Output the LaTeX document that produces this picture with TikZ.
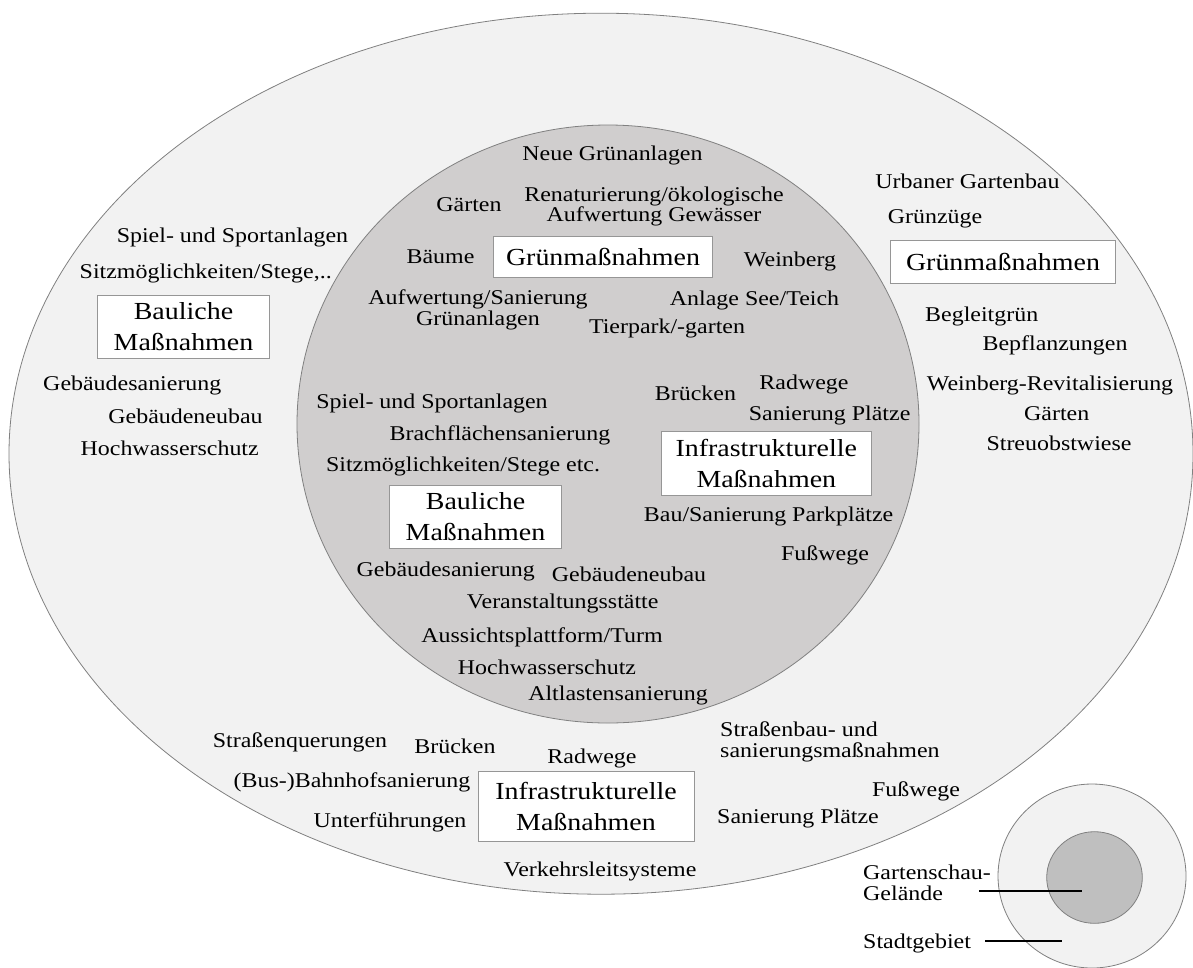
\documentclass[tikz,border=0pt]{standalone}
\usepackage{fontspec}
\setmainfont{Liberation Serif}[FakeStretch=1.14]
\usetikzlibrary{shapes.geometric}
\definecolor{cityfill}{RGB}{242,242,242}
\definecolor{sitefill}{RGB}{208,206,206}
\definecolor{keyfill}{RGB}{191,191,191}
\definecolor{ringline}{RGB}{128,128,128}
\definecolor{boxline}{RGB}{150,150,150}
\begin{document}
\begin{tikzpicture}[x=1pt,y=-1pt,
  ring/.style={ellipse,draw=ringline,line width=0.8pt,inner sep=0pt},
  % multi-line labels are placed at the baseline of their last line
  lbl/.style={inner sep=0pt,anchor=base,align=center,
    font=\fontsize{21}{20.5}\selectfont},
  lblleft/.style={lbl,align=left,anchor=base west},
  catbox/.style={draw=boxline,fill=white,line width=0.9pt,inner sep=0pt,
    align=center,font=\fontsize{24.5}{31}\selectfont},
  keyline/.style={line width=1.6pt,black}]
\useasboundingbox (0,0) rectangle (1193,967);

% city area and exhibition site
\node[ring,fill=cityfill,minimum width=1184pt,minimum height=881pt] (city) at (601,453.7) {};
\node[ring,fill=sitefill,minimum width=622pt,minimum height=598pt] (site) at (608,424) {};

% ---- inside the exhibition site: green measures
\node[catbox,minimum width=219.5pt,minimum height=41.3pt] (siteGreen) at (603,256.7) {Grünmaßnahmen};
\node[lbl] (sg1) at (612.5,160.7) {Neue Grünanlagen};
\node[lbl] (sg2) at (469,211.7) {Gärten};
\node[lbl] (sg3) at (654,221.7) {Renaturierung/ökologische\\Aufwertung Gewässer};
\node[lbl] (sg4) at (440.5,263.3) {Bäume};
\node[lbl] (sg5) at (790,266.7) {Weinberg};
\node[lbl] (sg6) at (478,325) {Aufwertung/Sanierung\\Grünanlagen};
\node[lbl] (sg7) at (754.5,305) {Anlage See/Teich};
\node[lbl] (sg8) at (667,333.3) {Tierpark/-garten};

% ---- inside the exhibition site: construction measures
\node[catbox,minimum width=172pt,minimum height=62.7pt] (siteBuild) at (475.5,517) {Bauliche\\Maßnahmen};
\node[lbl] (sb1) at (432,408.3) {Spiel- und Sportanlagen};
\node[lbl] (sb2) at (500,440.7) {Brachflächensanierung};
\node[lbl] (sb3) at (463,471.7) {Sitzmöglichkeiten/Stege etc.};
\node[lbl] (sb4) at (445.7,576.7) {Gebäudesanierung};
\node[lbl] (sb5) at (629,581.7) {Gebäudeneubau};
\node[lbl] (sb6) at (562.7,608.3) {Veranstaltungsstätte};
\node[lbl] (sb7) at (542,642.7) {Aussichtsplattform/Turm};
\node[lbl] (sb8) at (547,674) {Hochwasserschutz};
\node[lbl] (sb9) at (618,700) {Altlastensanierung};

% ---- inside the exhibition site: infrastructure
\node[catbox,minimum width=209.4pt,minimum height=64pt] (siteInfra) at (766.3,463.7) {Infrastrukturelle\\Maßnahmen};
\node[lbl] (si1) at (695.5,400) {Brücken};
\node[lbl] (si2) at (804,389.3) {Radwege};
\node[lbl] (si3) at (829.6,420) {Sanierung Plätze};
\node[lbl] (si4) at (768.6,521.7) {Bau/Sanierung Parkplätze};
\node[lbl] (si5) at (825,560) {Fußwege};

% ---- city area: construction measures
\node[catbox,minimum width=171.7pt,minimum height=62.3pt] (cityBuild) at (183.5,327) {Bauliche\\Maßnahmen};
\node[lbl] (cb1) at (232.5,242.7) {Spiel- und Sportanlagen};
\node[lbl] (cb2) at (205.7,278.3) {Sitzmöglichkeiten/Stege,..};
\node[lbl] (cb3) at (132.3,390) {Gebäudesanierung};
\node[lbl] (cb4) at (185.5,423.3) {Gebäudeneubau};
\node[lbl] (cb5) at (169.7,455) {Hochwasserschutz};

% ---- city area: green measures
\node[catbox,minimum width=224.3pt,minimum height=43.3pt] (cityGreen) at (1003,261.7) {Grünmaßnahmen};
\node[lbl] (cg1) at (967.5,188.3) {Urbaner Gartenbau};
\node[lbl] (cg2) at (935,223.3) {Grünzüge};
\node[lbl] (cg3) at (981.7,321.7) {Begleitgrün};
\node[lbl] (cg4) at (1055,350) {Bepflanzungen};
\node[lbl] (cg5) at (1050,390) {Weinberg-Revitalisierung};
\node[lbl] (cg6) at (1056.7,420) {Gärten};
\node[lbl] (cg7) at (1059,450) {Streuobstwiese};

% ---- city area: infrastructure
\node[catbox,minimum width=216pt,minimum height=70pt] (cityInfra) at (586,806) {Infrastrukturelle\\Maßnahmen};
\node[lbl] (ci1) at (300,747) {Straßenquerungen};
\node[lbl] (ci2) at (455,753) {Brücken};
\node[lbl] (ci3) at (592,763) {Radwege};
\node[lblleft] (ci4) at (720,757) {Straßenbau- und\\sanierungsmaßnahmen};
\node[lbl] (ci5) at (352,787) {(Bus-)Bahnhofsanierung};
\node[lbl] (ci6) at (916,796) {Fußwege};
\node[lbl] (ci7) at (390,827) {Unterführungen};
\node[lbl] (ci8) at (798,823) {Sanierung Plätze};
\node[lbl] (ci9) at (600,876) {Verkehrsleitsysteme};

% ---- key
\node[ring,fill=cityfill,minimum width=188pt,minimum height=184pt] (keyCity) at (1092,876) {};
\node[ring,fill=keyfill,minimum width=95.6pt,minimum height=91.6pt] (keySite) at (1094.5,877.5) {};
\node[lblleft] (keySiteLbl) at (863,900) {Gartenschau-\\Gelände};
\node[lblleft] (keyCityLbl) at (863,948.3) {Stadtgebiet};
\coordinate (keySiteA) at (979.3,890.7);
\coordinate (keySiteB) at (1081.7,890.7);
\coordinate (keyCityA) at (985,940.7);
\coordinate (keyCityB) at (1062.3,940.7);
\draw[keyline] (keySiteA) -- (keySiteB);
\draw[keyline] (keyCityA) -- (keyCityB);
\end{tikzpicture}
\end{document}
